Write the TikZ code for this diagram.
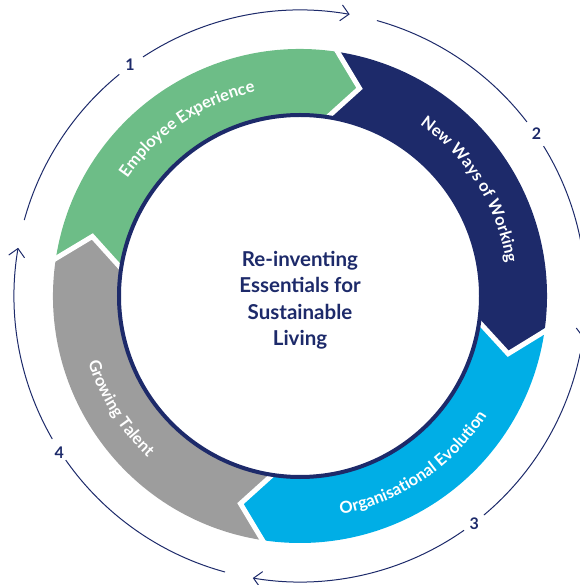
\documentclass[tikz,border=0pt]{standalone}
\usepackage{fontspec}
\setmainfont{Lato}
\usetikzlibrary{arrows.meta,decorations.text}

\definecolor{ringgreen}{HTML}{6DBD87}
\definecolor{ringnavy}{HTML}{1D2A6A}
\definecolor{ringblue}{HTML}{00AEE6}
\definecolor{ringgray}{HTML}{9D9D9D}

% one coloured stage of the ring: notch at the start angle, point at the end angle
\newcommand\ringstage[3]{%
  \fill[#1] (#2:247) arc[start angle=#2, end angle=#3, radius=247]
    -- ({#3-8}:216) -- (#3:181)
    arc[start angle=#3, end angle=#2, radius=181]
    -- ({#2-8}:216) -- cycle;}
% white chevron gap between two stages
\newcommand\stagegap[1]{%
  \draw[gapline] (#1:251) -- ({#1-8}:216) -- (#1:178);}
% curved white label along the middle of the ring
\newcommand\stagelabel[4]{%
  \path[decorate, decoration={text along path, text align=center, text color=white,
    text={|\bfseries\fontsize{16.5}{16.5}\selectfont|#4}}]
    (#1:#3) arc[start angle=#1, end angle=#2, radius=#3];}

\tikzset{
  gapline/.style={white, line width=5pt, line join=miter},
  cycleline/.style={ringnavy, line width=1pt},
  cyclearrow/.style={cycleline, -{Straight Barb[length=8pt,width=16pt,line width=1pt]}},
  stagenum/.style={text=ringnavy, inner sep=0pt, font=\bfseries\fontsize{16}{16}\selectfont},
  hubtext/.style={text=ringnavy, align=center, font=\bfseries\fontsize{20.5}{26.5}\selectfont}
}

\begin{document}
\begin{tikzpicture}[x=1pt,y=1pt]
\useasboundingbox (-300,-289) rectangle (279,296);

% ring stages
\ringstage{ringgreen}{172}{82}
\ringstage{ringnavy}{82}{-7.5}
\ringstage{ringblue}{-7.5}{-98}
\ringstage{ringgray}{-98}{-188}
\stagegap{172}
\stagegap{82}
\stagegap{-7.5}
\stagegap{-98}

% central disc
\draw[ringnavy, line width=4pt, fill=white] (0,0) circle[radius=181];
\node[hubtext] (hub) at (0,-4) {Re-inventing\\Essentials for\\Sustainable\\Living};

% stage labels
\stagelabel{174}{74}{209}{Employee Experience}
\stagelabel{82}{-18}{209}{New Ways of Working}
\stagelabel{-106}{-6}{222}{Organisational Evolution}
\stagelabel{162}{262}{222}{Growing Talent}

% outer cycle with stage numbers
\node[stagenum] (n1) at (126.3:287) {1};
\node[stagenum] (n2) at (34.5:287) {2};
\node[stagenum] (n3) at (-52.6:287) {3};
\node[stagenum] (n4) at (213:287) {4};

\draw[cyclearrow] (123.3:286) arc[start angle=123.3, end angle=80, radius=286];
\draw[cycleline]  (74.4:286) arc[start angle=74.4, end angle=37.5, radius=286];
\draw[cyclearrow] (31.6:286) arc[start angle=31.6, end angle=-8.4, radius=286];
\draw[cycleline]  (-11.6:286) arc[start angle=-11.6, end angle=-50, radius=286];
\draw[cyclearrow] (-55:286) arc[start angle=-55, end angle=-99.5, radius=286];
\draw[cycleline]  (-105.2:286) arc[start angle=-105.2, end angle=-145, radius=286];
\draw[cyclearrow] (-150:286) arc[start angle=-150, end angle=-189.7, radius=286];
\draw[cycleline]  (-195.4:286) arc[start angle=-195.4, end angle=-230.8, radius=286];
\end{tikzpicture}
\end{document}
